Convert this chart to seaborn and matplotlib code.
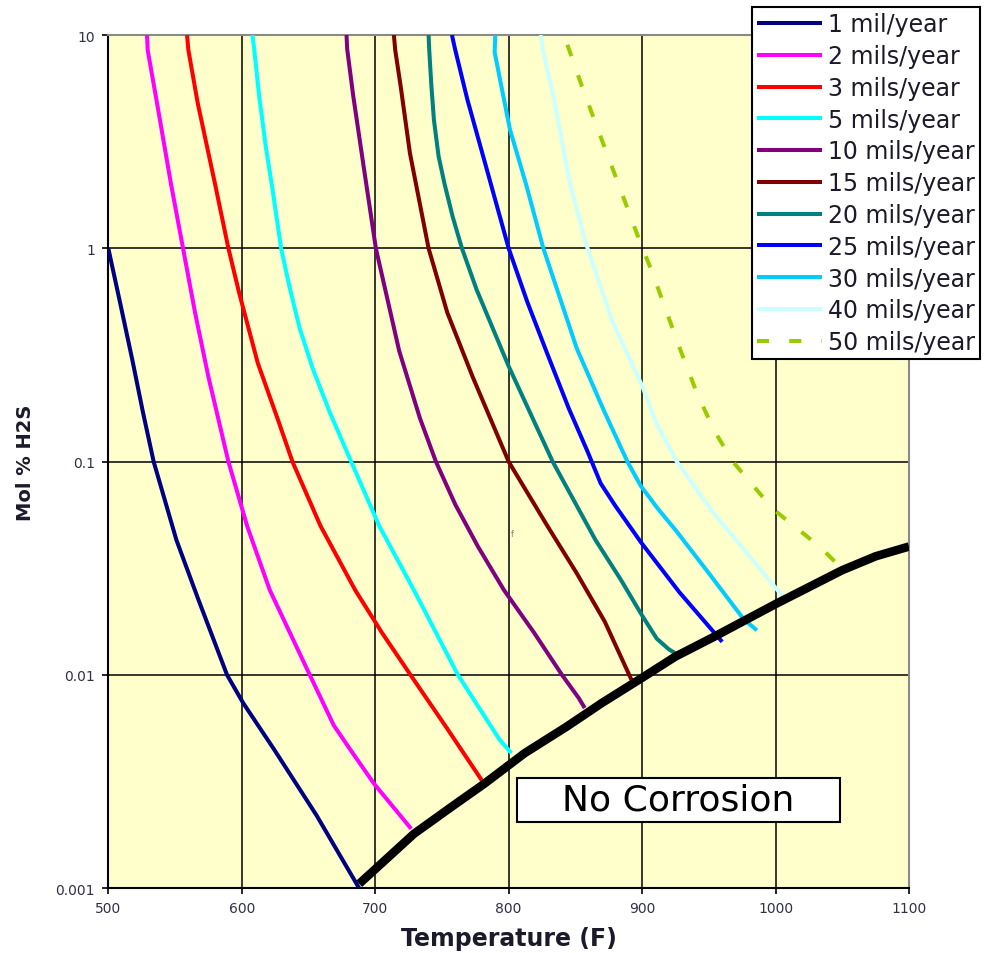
import matplotlib
matplotlib.use("Agg")
import matplotlib.pyplot as plt
from matplotlib.patches import Rectangle
from matplotlib.ticker import NullLocator
import seaborn as sns

# curves: temperature (F) and mol % H2S
rate_labels = ["1 mil/year", "2 mils/year", "3 mils/year", "5 mils/year",
               "10 mils/year", "15 mils/year", "20 mils/year", "25 mils/year",
               "30 mils/year", "40 mils/year", "50 mils/year"]
rate_colors = ["#000080", "#FF00FF", "#FF0000", "#00FFFF", "#800080", "#800000",
               "#008080", "#0000FF", "#00CCFF", "#CCFFFF", "#99CC00"]

t_1 = [500, 509, 518, 526, 534, 551, 567, 589, 601, 624, 656, 688]
h_1 = [1.0, 0.55, 0.30, 0.17, 0.10, 0.043, 0.023, 0.010, 0.0074, 0.0045, 0.0022, 0.0010]

t_2 = [529, 529.5, 536, 547, 556, 565, 575, 590, 604, 621, 651, 669, 681, 699, 727]
h_2 = [10, 8.5, 5.0, 2.0, 1.0, 0.50, 0.25, 0.10, 0.050, 0.025, 0.010, 0.0058, 0.0045, 0.0031, 0.0019]

t_3 = [559, 560, 567, 575, 580, 590, 598, 612, 627, 638, 659, 685, 705, 726.5, 754, 780]
h_3 = [10, 8.5, 4.8, 2.8, 2.0, 1.0, 0.62, 0.29, 0.158, 0.10, 0.050, 0.025, 0.0158, 0.010, 0.0056, 0.0032]

t_5 = [608, 609.3, 613, 618, 623, 629.5, 636, 643.5, 653.5, 666, 682, 703, 729, 762, 793, 802]
h_5 = [10, 8.6, 5.2, 3.0, 1.9, 1.0, 0.65, 0.42, 0.27, 0.17, 0.10, 0.050, 0.025, 0.010, 0.0050, 0.0043]

t_10 = [678.5, 679, 683.5, 691, 700.5, 718, 733.5, 745.5, 760, 777, 796.5, 819, 840, 852.5, 857]
h_10 = [10, 8.6, 5.2, 2.5, 1.0, 0.33, 0.16, 0.10, 0.063, 0.040, 0.025, 0.0158, 0.010, 0.0078, 0.0070]

t_15 = [714, 715, 719, 726, 740, 754, 773, 800, 829, 851, 872, 892]
h_15 = [10, 8.5, 5.8, 2.8, 1.0, 0.50, 0.25, 0.10, 0.050, 0.030, 0.0178, 0.0095]

t_20 = [740, 740.5, 742, 744, 747.5, 752, 758, 765, 776, 800, 833, 865, 884, 900, 911, 920, 926]
h_20 = [10, 8.5, 5.9, 4.0, 2.7, 2.0, 1.41, 1.0, 0.64, 0.28, 0.10, 0.043, 0.028, 0.019, 0.0148,
        0.0132, 0.0125]

t_25 = [757.5, 760, 769, 784, 800, 814, 829, 845, 859, 869, 880, 899, 928, 960]
h_25 = [10, 8.5, 5.0, 2.3, 1.0, 0.56, 0.32, 0.178, 0.112, 0.079, 0.062, 0.042, 0.0244, 0.0143]

t_30 = [790, 789.5, 801, 813, 826, 851, 872, 889, 899, 912, 926, 950, 976, 986]
h_30 = [10, 8.3, 3.6, 2.0, 1.0, 0.34, 0.17, 0.10, 0.077, 0.060, 0.047, 0.030, 0.0183, 0.0162]

t_40 = [824, 826, 834, 846, 858, 878, 900, 911, 926, 953, 978, 1005]
h_40 = [10, 8.3, 5.0, 2.0, 1.05, 0.45, 0.227, 0.15, 0.10, 0.058, 0.0376, 0.0235]

t_50 = [844, 856, 870, 885, 899, 907, 929, 941, 954, 968, 998, 1033, 1051]
h_50 = [9.0, 5.5, 3.2, 1.8, 1.05, 0.79, 0.33, 0.21, 0.14, 0.10, 0.060, 0.040, 0.031]

# no-corrosion boundary
t_bound = [688, 706, 729, 756, 782, 812, 843, 870, 900, 925, 953, 1000, 1050, 1075, 1100]
h_bound = [0.00105, 0.00133, 0.00180, 0.00238, 0.0031, 0.0043, 0.0057, 0.0074, 0.0097,
           0.0122, 0.0150, 0.0215, 0.031, 0.036, 0.040]

x_ticks = [500, 600, 700, 800, 900, 1000, 1100]
y_ticks = [0.001, 0.01, 0.1, 1, 10]
y_tick_labels = ["0.001", "0.01", "0.1", "1", "10"]

temps = [t_1, t_2, t_3, t_5, t_10, t_15, t_20, t_25, t_30, t_40, t_50]
h2s = [h_1, h_2, h_3, h_5, h_10, h_15, h_20, h_25, h_30, h_40, h_50]

GREEN_DASH = (3.0, 5.0)

sns.set_style("white")
plt.rcParams["font.family"] = ["DejaVu Sans"]

fig = plt.figure(figsize=(9.86, 9.54), dpi=100)
ax = fig.add_axes([108.3 / 986, 1 - 889.3 / 954, 800.7 / 986, 853.3 / 954])
ax.set_facecolor("#FFFFCC")

for t, h, lab, col in zip(temps, h2s, rate_labels, rate_colors):
    sns.lineplot(x=t, y=h, sort=False, estimator=None, color=col, lw=2.9,
                 ax=ax, zorder=3, legend=False)
    line = ax.lines[-1]
    line.set_solid_capstyle("butt")
    line.set_solid_joinstyle("round")
    if lab.startswith("50"):
        line.set_dashes(GREEN_DASH)

sns.lineplot(x=t_bound, y=h_bound, sort=False, estimator=None, color="black",
             lw=6.2, ax=ax, zorder=4, legend=False)
ax.lines[-1].set_solid_capstyle("butt")
ax.lines[-1].set_solid_joinstyle("round")

ax.set_yscale("log")
ax.set_xlim(500, 1100)
ax.set_ylim(0.001, 10)
ax.set_xticks(x_ticks)
ax.set_xticklabels([str(v) for v in x_ticks])
ax.set_yticks(y_ticks)
ax.set_yticklabels(y_tick_labels)
ax.yaxis.set_minor_locator(NullLocator())
ax.tick_params(axis="both", which="major", direction="out", length=4.5, width=1.2,
               color="black", labelsize=10, labelcolor="#30304a", pad=5,
               bottom=True, left=True)
ax.grid(True, color="black", lw=1.1)
ax.set_axisbelow(True)

for side in ["left", "bottom"]:
    ax.spines[side].set_color("black")
    ax.spines[side].set_linewidth(1.5)
for side in ["top", "right"]:
    ax.spines[side].set_color("#8a8a8a")
    ax.spines[side].set_linewidth(1.5)

ax.set_xlabel("Temperature (F)", fontsize=17, fontweight="bold", color="#1a1a2a")
ax.xaxis.set_label_coords(0.5, -0.044)
ax.set_ylabel("Mol % H2S", fontsize=14, fontweight="bold", color="#1a1a2a")
ax.yaxis.set_label_coords(-0.0915, 0.5)

# "No Corrosion" box
ax.add_patch(Rectangle((0.510, 0.0777), 0.404, 0.0516, transform=ax.transAxes,
                       facecolor="white", edgecolor="black", lw=1.5, zorder=5))
ax.text(0.712, 0.1035, "No Corrosion", transform=ax.transAxes, fontsize=26,
        ha="center", va="center", color="black", zorder=6)

# stray mark present in the original
ax.text(803, 0.046, "f", fontsize=6, color="#8a7a6a", ha="center", va="center", zorder=2)

handles = []
for lab, col in zip(rate_labels, rate_colors):
    (h,) = ax.plot([], [], color=col, lw=2.9, solid_capstyle="butt")
    if lab.startswith("50"):
        h.set_dashes(GREEN_DASH)
    handles.append(h)

leg = fig.legend(handles, rate_labels, loc="upper left",
                 bbox_to_anchor=(752 / 986, 1 - 8 / 954),
                 bbox_transform=fig.transFigure, fontsize=17,
                 frameon=True, fancybox=False, framealpha=1, edgecolor="black",
                 borderpad=0.22, labelspacing=0.33, handlelength=2.75,
                 handletextpad=0.25, borderaxespad=0)
leg.get_frame().set_linewidth(1.5)
for txt in leg.get_texts():
    txt.set_color("#1a1a2a")

fig.savefig("out.png", dpi=100)
